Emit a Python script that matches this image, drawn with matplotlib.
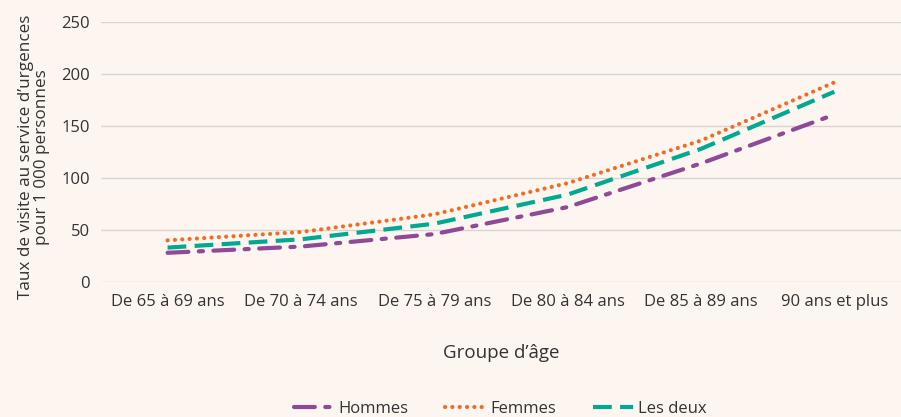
import numpy as np
import matplotlib.pyplot as plt

# data
groupes = ['De 65 à 69 ans', 'De 70 à 74 ans', 'De 75 à 79 ans',
           'De 80 à 84 ans', 'De 85 à 89 ans', '90 ans et plus']
hommes = [28, 34, 46, 72, 114, 161]
femmes = [40, 48, 65, 95, 136, 192]
les_deux = [33, 41, 56, 84, 128, 183]

plt.rcParams['font.family'] = ['Open Sans', 'DejaVu Sans']
bg = '#fdf5f0'
txt = '#333333'

fig = plt.figure(figsize=(9.01, 4.17), dpi=100, facecolor=bg)
ax = fig.add_axes([0.112, 0.324, 0.888, 0.623], facecolor=bg)

x = np.arange(len(groupes))
ax.plot(x, hommes, color='#8e4a96', lw=3, dashes=(5, 2.5, 1, 2.5),
        dash_capstyle='round', label='Hommes')
ax.plot(x, femmes, color='#f26b21', lw=3, dashes=(0.01, 1.75),
        dash_capstyle='round', label='Femmes')
ax.plot(x, les_deux, color='#00a98f', lw=3, dashes=(4.5, 2),
        label='Les deux')

ax.set_xlim(-0.5, 5.5)
ax.set_ylim(0, 250)
ax.set_yticks([0, 50, 100, 150, 200, 250])
ax.set_xticks(x)
ax.set_xticklabels(groupes)
ax.grid(axis='y', color='#d8d4d1', lw=1)
ax.set_axisbelow(True)
for s in ax.spines.values():
    s.set_visible(False)
ax.tick_params(axis='y', length=0, labelsize=12, labelcolor=txt, pad=8)
ax.tick_params(axis='x', length=0, labelsize=12, labelcolor=txt, pad=9)

ax.set_ylabel("Taux de visite au service d\u2019urgences\npour 1 000 personnes",
              fontsize=12.3, color=txt, linespacing=1.0)
ax.yaxis.set_label_coords(-0.064, 0.48)
ax.set_xlabel("Groupe d\u2019âge", fontsize=13.5, color=txt, labelpad=24)

leg = fig.legend(loc='lower center', bbox_to_anchor=(0.555, -0.035), ncol=3,
                 frameon=False, fontsize=12, handlelength=2.4,
                 columnspacing=2.2, handletextpad=0.3)
for t in leg.get_texts():
    t.set_color(txt)

fig.savefig('out.png', dpi=100, facecolor=bg)
